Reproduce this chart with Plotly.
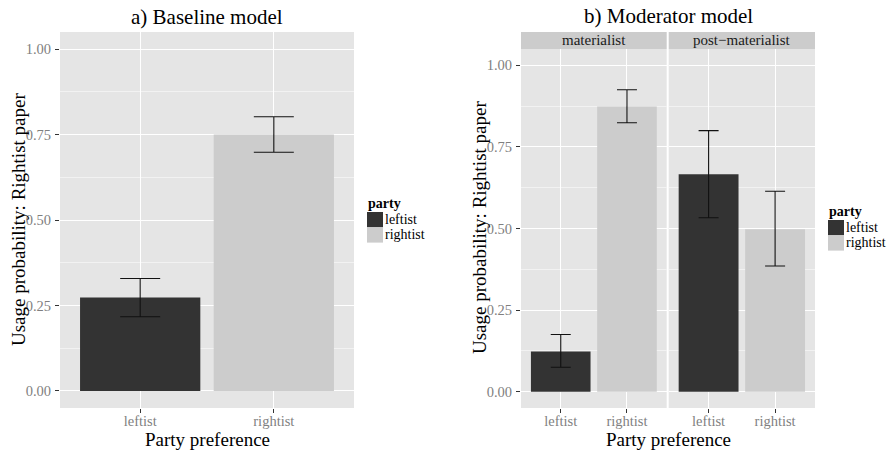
import plotly.graph_objects as go

# ---------------- data ----------------
categories = ["leftist", "rightist"]
party_colors = ["#333333", "#CCCCCC"]

base_est = [0.273, 0.750]
base_lo = [0.217, 0.698]
base_hi = [0.329, 0.802]

facets = ["materialist", "post\u2212materialist"]
mat_est = [0.123, 0.874]
mat_lo = [0.075, 0.824]
mat_hi = [0.175, 0.925]
post_est = [0.666, 0.498]
post_lo = [0.533, 0.385]
post_hi = [0.800, 0.614]

y_ticks = [0.0, 0.25, 0.5, 0.75, 1.0]

# ---------------- layout helpers ----------------
W, H = 890, 450
FONT = "Liberation Serif"


def px(x):
    return x / W


def py(y):
    return 1 - y / H


fig = go.Figure()


def add_bars(xaxis, yaxis, est, lo, hi, capw):
    for i, cat in enumerate(categories):
        fig.add_trace(go.Bar(
            x=[cat], y=[est[i]], width=0.9,
            marker=dict(color=party_colors[i], line=dict(width=0)),
            error_y=dict(type="data", symmetric=False,
                         array=[hi[i] - est[i]], arrayminus=[est[i] - lo[i]],
                         color="#111111", thickness=1.1, width=capw),
            xaxis=xaxis, yaxis=yaxis, showlegend=False, hoverinfo="skip"))


add_bars("x", "y", base_est, base_lo, base_hi, 20)
add_bars("x2", "y2", mat_est, mat_lo, mat_hi, 10)
add_bars("x3", "y3", post_est, post_lo, post_hi, 10)

tickfont = dict(family=FONT, size=14.5, color="#7F7F7F")


def xax(domain):
    return dict(domain=domain, type="category", categoryorder="array",
                categoryarray=categories, range=[-0.6, 1.6],
                showgrid=True, gridcolor="white", gridwidth=1,
                ticks="outside", ticklen=4, tickcolor="#333333",
                ticklabelstandoff=-4,
                tickfont=tickfont, showline=False, zeroline=False,
                fixedrange=True, automargin=False)


def yax(domain, labels=True):
    return dict(domain=domain, range=[-0.05, 1.05], tickvals=y_ticks,
                ticktext=["%.2f" % v for v in y_ticks],
                showgrid=True, gridcolor="white", gridwidth=1,
                minor=dict(tick0=0.125, dtick=0.25, showgrid=True,
                           gridcolor="#F2F2F2", gridwidth=1),
                zeroline=False, showline=False, tickfont=tickfont,
                ticks="outside" if labels else "", ticklen=4, tickcolor="#333333",
                ticklabelstandoff=1,
                showticklabels=labels, fixedrange=True, automargin=False)


yl = [py(408), py(32)]
yr = [py(408), py(49)]

fig.update_layout(
    width=W, height=H,
    margin=dict(l=0, r=0, t=0, b=0),
    paper_bgcolor="white", plot_bgcolor="#E5E5E5",
    barmode="overlay",
    font=dict(family=FONT, color="#1A1A1A"),
    xaxis=dict(xax([px(60), px(354)]), anchor="y"),
    yaxis=dict(yax(yl), anchor="x"),
    xaxis2=dict(xax([px(521), px(666.7)]), anchor="y2"),
    yaxis2=dict(yax(yr), anchor="x2"),
    xaxis3=dict(xax([px(668.7), px(815)]), anchor="y3"),
    yaxis3=dict(yax(yr, labels=False), anchor="x3", matches="y2"),
)

shapes = []
annotations = []

# strips
for (x0, x1), name in zip([(521, 666.7), (668.7, 815)], facets):
    shapes.append(dict(type="rect", xref="paper", yref="paper",
                       x0=px(x0), x1=px(x1), y0=py(49), y1=py(32),
                       fillcolor="#CCCCCC", line=dict(width=0), layer="below"))
    annotations.append(dict(xref="paper", yref="paper", x=px((x0 + x1) / 2), y=py(40.5),
                            text=name, showarrow=False, xanchor="center", yanchor="middle",
                            font=dict(family=FONT, size=15, color="#1A1A1A")))

# titles
annotations.append(dict(xref="paper", yref="paper", x=px(207), y=py(17), text="a) Baseline model",
                        showarrow=False, xanchor="center", yanchor="middle",
                        font=dict(family=FONT, size=21, color="black")))
annotations.append(dict(xref="paper", yref="paper", x=px(668), y=py(16), text="b) Moderator model",
                        showarrow=False, xanchor="center", yanchor="middle",
                        font=dict(family=FONT, size=21, color="black")))

# axis titles
for xc in (207, 668):
    annotations.append(dict(xref="paper", yref="paper", x=px(xc), y=py(439), text="Party preference",
                            showarrow=False, xanchor="center", yanchor="middle",
                            font=dict(family=FONT, size=19, color="black")))
for xc, yc in ((18, 220), (479, 228)):
    annotations.append(dict(xref="paper", yref="paper", x=px(xc), y=py(yc),
                            text="Usage probability: Rightist paper", textangle=-90,
                            showarrow=False, xanchor="center", yanchor="middle",
                            font=dict(family=FONT, size=19, color="black")))

# legends
for lx, ty, ky in ((367, 203, 212), (828, 212, 220)):
    annotations.append(dict(xref="paper", yref="paper", x=px(lx - 1), y=py(ty), text="<b>party</b>",
                            showarrow=False, xanchor="left", yanchor="middle",
                            font=dict(family=FONT, size=14, color="black")))
    for i, cat in enumerate(categories):
        y0 = ky + i * 15.3
        shapes.append(dict(type="rect", xref="paper", yref="paper",
                           x0=px(lx), x1=px(lx + 16), y0=py(y0 + 15.3), y1=py(y0),
                           fillcolor=party_colors[i], line=dict(width=0)))
        annotations.append(dict(xref="paper", yref="paper", x=px(lx + 16), y=py(y0 + 7.6), text=cat,
                                showarrow=False, xanchor="left", yanchor="middle",
                                font=dict(family=FONT, size=14, color="black")))

fig.update_layout(shapes=shapes, annotations=annotations)

fig.write_html("out.html", config={"displayModeBar": False},
               post_script="document.body.style.margin='0';document.body.style.overflow='hidden';")
